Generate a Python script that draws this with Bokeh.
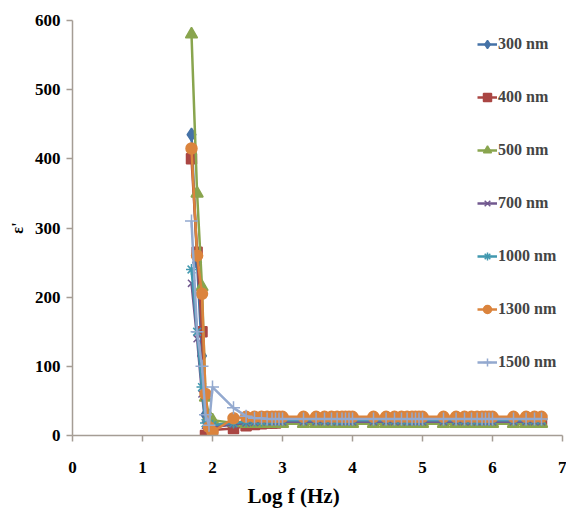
from bokeh.plotting import figure
from bokeh.models import Range1d, FixedTicker, Legend, LegendItem, Title
from bokeh.embed import file_html
from bokeh.resources import INLINE

LOGF = [1.70, 1.78, 1.85, 1.90, 1.95, 2.00, 2.30, 2.48, 2.60, 2.70, 2.78, 2.85, 2.90, 2.95, 3.00,
        3.30, 3.48, 3.60, 3.70, 3.78, 3.85, 3.90, 3.95, 4.00,
        4.30, 4.48, 4.60, 4.70, 4.78, 4.85, 4.90, 4.95, 5.00,
        5.30, 5.48, 5.60, 5.70, 5.78, 5.85, 5.90, 5.95, 6.00,
        6.30, 6.48, 6.60, 6.70]

E_300 = [435, 250, 115, 30, 12, 15, 18, 20, 21, 21, 22, 22, 22, 22, 22,
         22, 22, 22, 22, 22, 22, 22, 22, 22,
         22, 22, 22, 22, 22, 22, 22, 22, 22,
         22, 22, 22, 22, 22, 22, 22, 22, 22,
         22, 22, 22, 22]
E_400 = [400, 265, 150, 0, 5, 8, 10, 14, 16, 17, 18, 18, 18, 19, 19,
         19, 19, 19, 19, 19, 19, 19, 19, 19,
         19, 19, 19, 19, 19, 19, 19, 19, 19,
         19, 19, 19, 19, 19, 19, 19, 19, 19,
         19, 19, 19, 19]
E_500 = [580, 350, 215, 55, 28, 22, 18, 17, 17, 17, 17, 17, 17, 17, 17,
         17, 17, 17, 17, 17, 17, 17, 17, 17,
         17, 17, 17, 17, 17, 17, 17, 17, 17,
         17, 17, 17, 17, 17, 17, 17, 17, 17,
         17, 17, 17, 17]
E_700 = [220, 140, 60, 15, 10, 12, 16, 18, 19, 20, 20, 20, 20, 20, 20,
         20, 20, 20, 20, 20, 20, 20, 20, 20,
         20, 20, 20, 20, 20, 20, 20, 20, 20,
         20, 20, 20, 20, 20, 20, 20, 20, 20,
         20, 20, 20, 20]
E_1000 = [240, 150, 70, 18, 14, 15, 18, 20, 21, 21, 22, 22, 22, 22, 22,
          22, 22, 22, 22, 22, 22, 22, 22, 22,
          22, 22, 22, 22, 22, 22, 22, 22, 22,
          22, 22, 22, 22, 22, 22, 22, 22, 22,
          22, 22, 22, 22]
E_1300 = [415, 260, 205, 60, 12, 5, 25, 27, 27, 27, 27, 27, 27, 27, 27,
          27, 27, 27, 27, 27, 27, 27, 27, 27,
          27, 27, 27, 27, 27, 27, 27, 27, 27,
          27, 27, 27, 27, 27, 27, 27, 27, 27,
          27, 27, 27, 27]
E_1500 = [310, 150, 100, 30, 15, 70, 40, 28, 25, 25, 24, 24, 24, 24, 24,
          24, 24, 24, 24, 24, 24, 24, 24, 24,
          24, 24, 24, 24, 24, 24, 24, 24, 24,
          24, 24, 24, 24, 24, 24, 24, 24, 24,
          24, 24, 24, 24]

LABELS = ["300 nm", "400 nm", "500 nm", "700 nm", "1000 nm", "1300 nm", "1500 nm"]
SERIES = [E_300, E_400, E_500, E_700, E_1000, E_1300, E_1500]
COLORS = ["#4572A7", "#AA4643", "#89A54E", "#71588F", "#4198AF", "#DB843D", "#93A9CF"]
MARKERS = ["diamond", "square", "triangle", "x", "asterisk", "circle", "cross"]
SIZES = [13, 10, 12, 10, 11, 11, 13]

FONT = "Liberation Serif"
AXIS_COLOR = "#A59D95"

p = figure(width=566, height=518, output_backend="svg", toolbar_location=None,
           x_range=Range1d(0, 7), y_range=Range1d(0, 600),
           min_border_left=72, min_border_right=4, min_border_top=20, min_border_bottom=83)
p.outline_line_color = None
p.xgrid.visible = False
p.ygrid.visible = False

items = []
for lab, ys, c, m, s in zip(LABELS, SERIES, COLORS, MARKERS, SIZES):
    r1 = p.line(LOGF, ys, line_color=c, line_width=2.5)
    r2 = p.scatter(LOGF, ys, marker=m, size=s, fill_color=c, line_color=c, line_width=1.5)
    items.append(LegendItem(label=lab, renderers=[r1, r2]))

legend = Legend(items=items, location=(405, 63), border_line_color=None,
                background_fill_alpha=0, label_text_font=FONT, label_text_font_style="bold",
                label_text_font_size="16px", glyph_width=20, glyph_height=20, label_height=20,
                spacing=33, padding=4, margin=0, label_standoff=1)
p.add_layout(legend)

for ax in (p.xaxis, p.yaxis):
    ax.axis_line_color = AXIS_COLOR
    ax.axis_line_width = 1.5
    ax.major_tick_line_color = AXIS_COLOR
    ax.major_tick_line_width = 1.5
    ax.major_tick_in = 0
    ax.major_tick_out = 6
    ax.minor_tick_line_color = None
    ax.major_label_text_font = FONT
    ax.major_label_text_font_style = "bold"
    ax.major_label_text_font_size = "17px"
    ax.major_label_text_color = "black"

p.xaxis.ticker = FixedTicker(ticks=[0, 1, 2, 3, 4, 5, 6, 7])
p.yaxis.ticker = FixedTicker(ticks=[0, 100, 200, 300, 400, 500, 600])
p.xaxis.major_label_standoff = 20
p.yaxis.major_label_standoff = 6

p.yaxis.axis_label = "ε'"
p.yaxis.axis_label_text_font = FONT
p.yaxis.axis_label_text_font_style = "bold"
p.yaxis.axis_label_text_font_size = "16px"
p.yaxis.axis_label_text_color = "black"
p.yaxis.axis_label_standoff = 6

# x title sits left of the frame centre in the reference
p.add_layout(Title(text="Log f (Hz)", align="left", offset=175, standoff=12,
                   text_font=FONT, text_font_style="bold", text_font_size="21px",
                   text_color="black"), "below")

open("out.html", "w").write(file_html(p, INLINE))
